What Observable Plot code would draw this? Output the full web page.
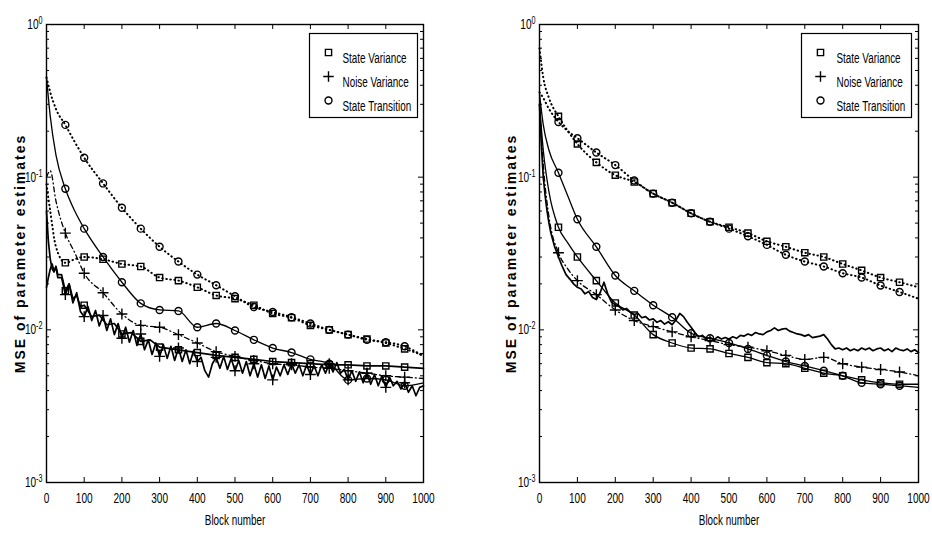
<!DOCTYPE html>
<html><head><meta charset="utf-8">
<script src="https://cdn.jsdelivr.net/npm/d3@7"></script>
<script src="https://cdn.jsdelivr.net/npm/@observablehq/plot@0.6"></script>
<style>
html,body{margin:0;padding:0;background:#fff;}
#wrap{display:flex;width:932px;height:535px;overflow:hidden;}
</style></head><body><div id="wrap"></div>
<script>
// ---------- tick labels / text ----------
const xTicks = [0,100,200,300,400,500,600,700,800,900,1000];
const yTicks = [0.001,0.01,0.1,1];
const yTickExp = ["-3","-2","-1","0"];
const yMinor = [0.002,0.003,0.004,0.005,0.006,0.007,0.008,0.009,0.02,0.03,0.04,0.05,0.06,0.07,0.08,0.09,0.2,0.3,0.4,0.5,0.6,0.7,0.8,0.9];
const xLabel = "Block number";
const yLabel = "MSE of parameter estimates";
const legendLabels = ["State Variance","Noise Variance","State Transition"];
const legendSymbols = ["square","plus","circle"];

// ---------- block numbers ----------
const blocksS = [0,10,25,50,75,100,150,200,250,300,350,400,450,500,550,600,650,700,750,800,850,900,950,1000];
const blocksN = [0,5,10,15,20,25,30,40,50,60,70,80,90,100,110,120,130,140,150,160,170,180,190,200,210,220,230,240,250,260,270,280,290,300,310,320,330,340,350,360,370,380,390,400,410,420,430,440,450,460,470,480,490,500,510,520,530,540,550,560,570,580,590,600,610,620,630,640,650,660,670,680,690,700,710,720,730,740,750,760,770,780,790,800,810,820,830,840,850,860,870,880,890,900,910,920,930,940,950,960,970,980,990,1000];
const blocksLSV = [0,5,10,15,20,25,30,40,50,60,70,80,90,100,120,140,160,180,200,225,250,275,300,350,400,450,500,550,600,650,700,750,800,850,900,950,1000];

// ---------- left panel values ----------
const L_ST_dot = [0.45,0.36,0.28,0.22,0.17,0.134,0.091,0.063,0.046,0.035,0.028,0.023,0.0196,0.0166,0.0141,0.0131,0.0121,0.011,0.0100,0.0093,0.0086,0.0083,0.0078,0.0067];
const L_SV_dot = [0.09,0.06,0.035,0.0275,0.029,0.030,0.029,0.027,0.026,0.022,0.021,0.019,0.0168,0.016,0.0145,0.0128,0.012,0.0107,0.0100,0.0093,0.0087,0.0082,0.0075,0.0068];
const L_NV_dot = [0.10,0.11,0.07,0.043,0.032,0.0235,0.0175,0.0127,0.0107,0.0104,0.0093,0.0082,0.0072,0.0067,0.0063,0.006,0.0059,0.0057,0.0056,0.0054,0.0052,0.005,0.0049,0.0048];
const L_ST_sol = [0.45,0.25,0.14,0.084,0.06,0.046,0.030,0.0205,0.0149,0.0135,0.0133,0.0104,0.011,0.0099,0.0086,0.0076,0.0071,0.0064,0.006,0.0047,0.0048,0.0047,0.0043,0.0045];
const L_SV_sol = [0.06,0.038,0.029,0.025,0.024,0.026,0.023,
 0.023,0.018,0.02,0.016,0.0168,0.0142,0.0145,
 0.0122,0.0125,0.0108,0.011,0.0094,
 0.0096,0.0084,0.0086,0.0077,
 0.0074,0.0071,0.0068,0.0066,0.0064,0.0062,0.0061,0.006,0.0059,0.0059,0.0058,0.0058,0.0057,0.0056];
const L_NV_sol = [0.019,0.022,0.025,0.027,0.024,0.026,0.022,
 0.022,0.017,0.02,0.015,0.0175,0.0132,
 0.0122,0.0142,0.0115,0.0134,0.0106,0.0124,0.0099,0.0118,0.0093,0.011,
 0.0088,0.0104,0.0083,0.0099,0.0079,0.0094,0.0074,0.0086,0.0069,0.0082,
 0.0067,0.008,0.0065,0.0078,0.0063,0.0076,0.0062,0.0074,0.006,0.0073,
 0.0062,0.0066,0.0054,0.0049,0.006,0.0066,0.0056,0.0067,0.0055,0.0065,
 0.0054,0.0063,0.0052,0.0062,0.005,0.006,0.0049,0.0059,0.0048,0.0058,
 0.0047,0.0057,0.005,0.0059,0.0051,0.006,0.0052,0.0059,0.005,0.0059,
 0.0051,0.0058,0.005,0.0059,0.0052,0.006,0.0053,0.0061,0.0052,0.0055,
 0.0047,0.0054,0.0046,0.0053,0.0045,0.0052,0.0044,0.0051,0.0043,0.005,
 0.0042,0.0049,0.0043,0.0046,0.0041,0.0045,0.0039,0.0043,0.0037,0.0042,
 0.0043];

// ---------- right panel values ----------
const R_SV_dot = [0.7,0.45,0.33,0.25,0.2,0.165,0.125,0.103,0.093,0.078,0.068,0.058,0.051,0.047,0.043,0.038,0.035,0.032,0.030,0.027,0.0245,0.022,0.0205,0.019];
const R_ST_dot = [0.36,0.33,0.28,0.23,0.2,0.18,0.145,0.12,0.095,0.078,0.068,0.058,0.051,0.046,0.041,0.036,0.031,0.028,0.026,0.0235,0.022,0.0195,0.0177,0.016];
const R_NV_dot = [0.3,0.12,0.055,0.032,0.025,0.021,0.017,0.0135,0.0115,0.0105,0.0097,0.009,0.0085,0.008,0.0077,0.0073,0.0068,0.0064,0.0066,0.006,0.0057,0.0055,0.0053,0.005];
const R_ST_sol = [0.35,0.22,0.15,0.107,0.075,0.053,0.035,0.0227,0.018,0.0145,0.0121,0.0095,0.0088,0.0082,0.0075,0.0068,0.0062,0.0058,0.0054,0.005,0.0045,0.0044,0.0043,0.0042];
const R_SV_sol = [0.3,0.15,0.08,0.047,0.037,0.030,0.021,0.015,0.0125,0.0093,0.0082,0.0076,0.0075,0.007,0.0066,0.0061,0.006,0.0056,0.0052,0.005,0.0047,0.0045,0.0044,0.0044];
const R_NV_sol = [0.3,0.16,0.1,0.075,0.06,0.05,0.043,
 0.035,0.03,0.026,0.023,0.0215,0.02,0.019,0.0185,0.0172,0.0178,0.0163,0.0158,0.0175,0.0205,0.0172,0.0152,
 0.0146,0.0142,0.0135,0.0138,0.013,0.0126,0.0128,0.012,0.0122,0.0116,0.0118,0.0112,0.0115,0.0109,0.0113,0.0108,
 0.0116,0.0128,0.0122,0.0112,0.0104,0.0096,0.009,0.0092,0.0087,0.0089,0.0086,0.009,0.0087,0.0089,0.0087,0.009,
 0.0088,0.0092,0.0091,0.0094,0.0092,0.0096,0.0094,0.0093,0.0097,0.0099,0.0103,0.0099,0.0101,0.0102,0.0098,0.0096,
 0.0094,0.0093,0.0091,0.0093,0.0089,0.009,0.0091,0.0093,0.0087,0.008,0.0075,0.0076,0.0074,0.0076,0.0073,0.0075,
 0.0073,0.0076,0.0074,0.0076,0.0073,0.0075,0.0076,0.0073,0.0075,0.0072,0.0076,0.0074,0.0073,0.0075,0.0072,0.0074,0.0071];

const leftSeries = [
  {xs: blocksS, ys: L_ST_dot, style: "dot", symbol: "circle"},
  {xs: blocksS, ys: L_SV_dot, style: "dot", symbol: "square"},
  {xs: blocksS, ys: L_NV_dot, style: "dashdot", symbol: "plus"},
  {xs: blocksS, ys: L_ST_sol, style: "solid", symbol: "circle"},
  {xs: blocksLSV, ys: L_SV_sol, style: "noisy", symbol: "square"},
  {xs: blocksN, ys: L_NV_sol, style: "noisy", symbol: "plus"}
];
const rightSeries = [
  {xs: blocksS, ys: R_SV_dot, style: "dot", symbol: "square"},
  {xs: blocksS, ys: R_ST_dot, style: "dot", symbol: "circle"},
  {xs: blocksS, ys: R_NV_dot, style: "dashdot", symbol: "plus"},
  {xs: blocksS, ys: R_ST_sol, style: "solid", symbol: "circle"},
  {xs: blocksS, ys: R_SV_sol, style: "solid", symbol: "square"},
  {xs: blocksN, ys: R_NV_sol, style: "noisy", symbol: null}
];

const W = 466, H = 535;
const FONT = "Liberation Sans, Arial, sans-serif";

function lineStyle(s) {
  if (s === "dot") return {strokeWidth: 2, strokeDasharray: "0.5,3.6", strokeLinecap: "round", curve: "monotone-x"};
  if (s === "dashdot") return {strokeWidth: 1.3, strokeDasharray: "5,3,1,3", curve: "monotone-x"};
  if (s === "noisy") return {strokeWidth: 1.7, curve: "linear"};
  return {strokeWidth: 1.3, curve: "monotone-x"};
}

function panel(series, m) {
  const innerW = W - m.left - m.right, innerH = H - m.top - m.bottom;
  const marks = [];
  for (const s of series) {
    const data = s.xs.map((x, i) => ({x, y: s.ys[i]})).filter(d => d.y != null);
    marks.push(Plot.line(data, {x: "x", y: "y", stroke: "black", ...lineStyle(s.style)}));
    if (s.symbol) {
      marks.push(Plot.dot(data.filter(d => d.x % 50 === 0 && d.x > 0 && d.x < 1000),
        {x: "x", y: "y", symbol: s.symbol, r: s.symbol === "plus" ? 3.6 : 3.5, stroke: "black", strokeWidth: 1.4, fill: "none"}));
    }
  }
  // inward ticks on all four sides
  marks.push(Plot.tickX(xTicks, {x: d => d, insetTop: innerH - 5, stroke: "black", strokeWidth: 1}));
  marks.push(Plot.tickX(xTicks, {x: d => d, insetBottom: innerH - 5, stroke: "black", strokeWidth: 1}));
  marks.push(Plot.tickY(yTicks, {y: d => d, insetRight: innerW - 5, stroke: "black", strokeWidth: 1}));
  marks.push(Plot.tickY(yTicks, {y: d => d, insetLeft: innerW - 5, stroke: "black", strokeWidth: 1}));
  marks.push(Plot.tickY(yMinor, {y: d => d, insetRight: innerW - 3, stroke: "black", strokeWidth: 1}));
  marks.push(Plot.tickY(yMinor, {y: d => d, insetLeft: innerW - 3, stroke: "black", strokeWidth: 1}));
  marks.push(Plot.frame({stroke: "black", strokeWidth: 1.4}));
  // axes labels
  marks.push(Plot.axisX({ticks: xTicks, tickSize: 0, tickPadding: 11, label: null, fontSize: 14, tickFormat: d => String(d)}));
  marks.push(Plot.axisY({ticks: yTicks, tickSize: 0, tickPadding: 4, label: null, fontSize: 14,
    tickFormat: d => "10^" + yTickExp[yTicks.indexOf(d)]}));
  marks.push(Plot.text([xLabel], {frameAnchor: "bottom", dy: 42, text: d => d, fontSize: 15, textAnchor: "middle"}));
  marks.push(Plot.text([yLabel], {frameAnchor: "left", rotate: -90, dx: m.ylab, text: d => d, fontSize: 14, fontWeight: "bold", textAnchor: "middle"}));
  // legend
  marks.push(Plot.frame({insetLeft: m.lgx0, insetRight: innerW - m.lgx1, insetTop: 9, insetBottom: innerH - 93, stroke: "black", strokeWidth: 1.2, fill: "white"}));
  legendLabels.forEach((lab, i) => {
    marks.push(Plot.dot([lab], {frameAnchor: "top-left", dx: m.lgsym, dy: 28 + i * 24, symbol: legendSymbols[i],
      r: 3.5, stroke: "black", strokeWidth: 1.4, fill: "none"}));
    marks.push(Plot.text([lab], {frameAnchor: "top-left", dx: m.lgtxt, dy: 28 + i * 24, text: d => d, textAnchor: "start", fontSize: 15}));
  });
  return Plot.plot({
    width: W, height: H,
    marginLeft: m.left, marginRight: m.right, marginTop: m.top, marginBottom: m.bottom,
    x: {domain: [0, 1000]},
    y: {type: "log", domain: [0.001, 1]},
    style: {fontFamily: FONT, fontSize: "14px", color: "black", background: "white"},
    marks
  });
}

const wrap = document.getElementById("wrap");
const p1 = panel(leftSeries, {left: 46, right: 43, top: 24, bottom: 53, ylab: -26, lgx0: 263, lgx1: 371, lgsym: 282, lgtxt: 296});
const p2 = panel(rightSeries, {left: 73, right: 14, top: 24, bottom: 53, ylab: -28, lgx0: 262, lgx1: 372, lgsym: 281, lgtxt: 297});
wrap.appendChild(p1);
wrap.appendChild(p2);

const NS = "http://www.w3.org/2000/svg";
for (const svg of [p1, p2]) {
  svg.querySelectorAll("text").forEach(t => {
    const s = t.textContent;
    if (s.includes("^")) {
      const [base, exp] = s.split("^");
      t.textContent = "";
      const a = document.createElementNS(NS, "tspan"); a.textContent = base; t.appendChild(a);
      const b = document.createElementNS(NS, "tspan"); b.textContent = exp;
      b.setAttribute("dy", "-0.5em"); b.setAttribute("font-size", "10px"); t.appendChild(b);
    }
  });
  // condensed look of the scanned lettering: squeeze text horizontally about its anchor
  svg.querySelectorAll("text").forEach(t => {
    const s = t.textContent;
    if (s === yLabel) { t.style.letterSpacing = "2px"; return; }
    const f = /^[0-9\-]+$/.test(s) ? 0.72 : 0.66;
    const tr = t.getAttribute("transform") || "";
    t.setAttribute("transform", (tr + ` scale(${f},1)`).trim());
  });
}
</script></body></html>
